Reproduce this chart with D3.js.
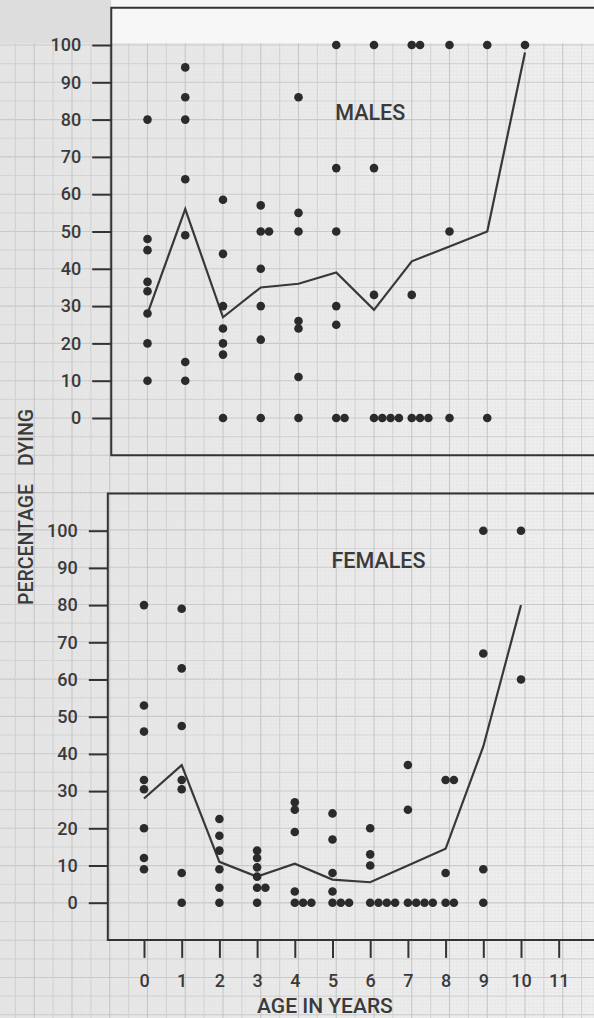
<!DOCTYPE html>
<html lang="en">
<head>
<meta charset="utf-8">
<title>Percentage dying by age</title>
<script src="https://cdn.jsdelivr.net/npm/d3@7"></script>
<style>
  body { margin: 0; background: #ebebeb; }
  svg { display: block; }
  text { font-family: Roboto, "Liberation Sans", Arial, sans-serif; font-weight: 500; fill: #3a3a3a; }
</style>
</head>
<body>
<div id="chart"></div>
<script>
// data
var ages = d3.range(0, 11);
var xTicks = d3.range(0, 12);
var yTicks = d3.range(0, 101, 10);

var maleMean = [28, 56, 27, 35, 36, 39, 29, 42, 46, 50, 98];
var femaleMean = [28, 37, 11, 7, 10.5, 6.2, 5.5, 10, 14.5, 42, 80];

// observed percentages, one list per age
var maleObs = [
  [80, 48, 45, 36.5, 34, 28, 20, 10],
  [94, 86, 80, 64, 49, 15, 10],
  [58.5, 44, 30, 24, 20, 17, 0],
  [57, 50, 50, 40, 30, 21, 0],
  [86, 55, 50, 26, 24, 11, 0],
  [100, 67, 50, 30, 25, 0, 0],
  [100, 67, 33, 0, 0, 0, 0],
  [100, 100, 33, 0, 0, 0],
  [100, 50, 0],
  [100, 0],
  [100]
];
var femaleObs = [
  [80, 53, 46, 33, 30.5, 20, 12, 9],
  [79, 63, 47.5, 33, 30.5, 8, 0],
  [22.5, 18, 14, 9, 4, 0],
  [14, 12, 9.5, 7, 4, 4, 0],
  [27, 25, 19, 3, 0, 0, 0],
  [24, 17, 8, 3, 0, 0, 0],
  [20, 13, 10, 0, 0, 0, 0],
  [37, 25, 0, 0, 0, 0],
  [33, 33, 8, 0, 0],
  [100, 67, 9, 0],
  [100, 60]
];

var w = 594;
var h = 1018;
var dodge = 0.22;   // equal values sit side by side

var svg = d3.select("#chart")
            .append("svg")
            .attr("width", w)
            .attr("height", h);

// paper shading, darker on the left like the photo
var defs = svg.append("defs");
var grad = defs.append("linearGradient").attr("id", "paper");
grad.append("stop").attr("offset", "0%").attr("stop-color", "#e4e4e4");
grad.append("stop").attr("offset", "100%").attr("stop-color", "#f0f0f0");

// panels: each has its own scales (the print is slightly shifted)
var panels = [
  { name: "MALES", obs: maleObs, mean: maleMean, labelAt: [5, 80],
    x: d3.scaleLinear().domain([0, 10]).range([147.5, 525]),
    y: d3.scaleLinear().domain([0, 100]).range([418, 45]) },
  { name: "FEMALES", obs: femaleObs, mean: femaleMean, labelAt: [5, 90], xAxis: true,
    x: d3.scaleLinear().domain([0, 10]).range([144, 521]),
    y: d3.scaleLinear().domain([0, 100]).range([902.7, 530.7]) }
];
var ref = panels[0];

// graph paper
var paperTop = ref.y(100.5);
svg.append("rect").attr("width", w).attr("height", h).attr("fill", "url(#paper)");
svg.append("rect").attr("width", ref.x(-0.96)).attr("height", paperTop).attr("fill", "#dddddd");
svg.append("rect").attr("x", ref.x(-0.96)).attr("width", w).attr("height", paperTop).attr("fill", "#f7f7f7");

function gridColor(d) { return d % 10 === 0 ? "#c6c6c6" : (d % 5 === 0 ? "#d2d2d2" : "#e4e4e4"); }
function gridWidth(d) { return d % 5 === 0 ? 1.1 : 0.5; }

var grid = svg.append("g").attr("class", "grid");
var hv = d3.range(-160, 101);
grid.selectAll("line.h").data(hv).enter().append("line")
    .attr("class", "h")
    .attr("x1", 0).attr("x2", w)
    .attr("y1", function(d) { return ref.y(d); })
    .attr("y2", function(d) { return ref.y(d); })
    .attr("stroke", gridColor)
    .attr("stroke-width", gridWidth);
var vv = d3.range(-40, 125);
grid.selectAll("line.v").data(vv).enter().append("line")
    .attr("class", "v")
    .attr("y1", paperTop).attr("y2", h)
    .attr("x1", function(d) { return ref.x(d / 10); })
    .attr("x2", function(d) { return ref.x(d / 10); })
    .attr("stroke", gridColor)
    .attr("stroke-width", gridWidth);

panels.forEach(function(p) {
  var g = svg.append("g");
  var left = p.x(-0.96);
  var yTopEdge = p.y(110);
  var yBotEdge = p.y(-10);

  // frame (left, top, bottom)
  g.append("path")
   .attr("d", "M" + w + "," + yTopEdge + "H" + left + "V" + yBotEdge + "H" + w)
   .attr("fill", "none")
   .attr("stroke", "#333")
   .attr("stroke-width", 2);

  // y axis
  var yAxis = d3.axisLeft(p.y).tickValues(yTicks).tickSize(19).tickPadding(11);
  g.append("g")
   .attr("transform", "translate(" + left + ",0)")
   .call(yAxis)
   .call(function(a) {
     a.select(".domain").remove();
     a.selectAll("line").attr("stroke", "#333").attr("stroke-width", 2);
     a.selectAll("text").attr("font-size", 18).attr("fill", "#3a3a3a")
      .attr("font-family", "Roboto, 'Liberation Sans', Arial, sans-serif")
      .attr("font-weight", 500);
   });

  // x axis only under the lower panel
  if (p.xAxis) {
    var xAxis = d3.axisBottom(p.x).tickValues(xTicks).tickSize(18).tickPadding(16);
    g.append("g")
     .attr("transform", "translate(0," + yBotEdge + ")")
     .call(xAxis)
     .call(function(a) {
       a.select(".domain").remove();
       a.selectAll("line").attr("stroke", "#333").attr("stroke-width", 2);
       a.selectAll("text").attr("font-size", 18).attr("fill", "#3a3a3a")
        .attr("font-family", "Roboto, 'Liberation Sans', Arial, sans-serif")
        .attr("font-weight", 500);
     });
  }

  // mean line
  var line = d3.line()
               .x(function(d, i) { return p.x(ages[i]); })
               .y(function(d) { return p.y(d); });
  g.append("path")
   .datum(p.mean)
   .attr("d", line)
   .attr("fill", "none")
   .attr("stroke", "#383838")
   .attr("stroke-width", 2.2)
   .attr("stroke-linejoin", "miter");

  // points, equal values at one age pushed to the right
  var pts = [];
  p.obs.forEach(function(list, i) {
    var seen = {};
    list.forEach(function(v) {
      var k = seen[v] || 0;
      seen[v] = k + 1;
      pts.push({ age: ages[i] + k * dodge, v: v });
    });
  });
  g.selectAll("circle")
   .data(pts)
   .enter()
   .append("circle")
   .attr("cx", function(d) { return p.x(d.age); })
   .attr("cy", function(d) { return p.y(d.v); })
   .attr("r", 4.3)
   .attr("fill", "#2b2b2b");

  // panel label
  g.append("text")
   .attr("x", p.x(p.labelAt[0]) - 1)
   .attr("y", p.y(p.labelAt[1]))
   .attr("font-size", 21.5)
   .attr("fill", "#4a4a4a")
   .text(p.name);
});

// axis titles
svg.append("text")
   .attr("transform", "translate(33,605) rotate(-90)")
   .attr("font-size", 19.5)
   .call(function(t) {
     t.append("tspan").text("PERCENTAGE");
     t.append("tspan").attr("dx", 18).text("DYING");
   });

svg.append("text")
   .attr("x", (panels[1].x(3) + panels[1].x(6.6)) / 2)
   .attr("y", 1013)
   .attr("text-anchor", "middle")
   .attr("font-size", 21)
   .text("AGE IN YEARS");
</script>
</body>
</html>
